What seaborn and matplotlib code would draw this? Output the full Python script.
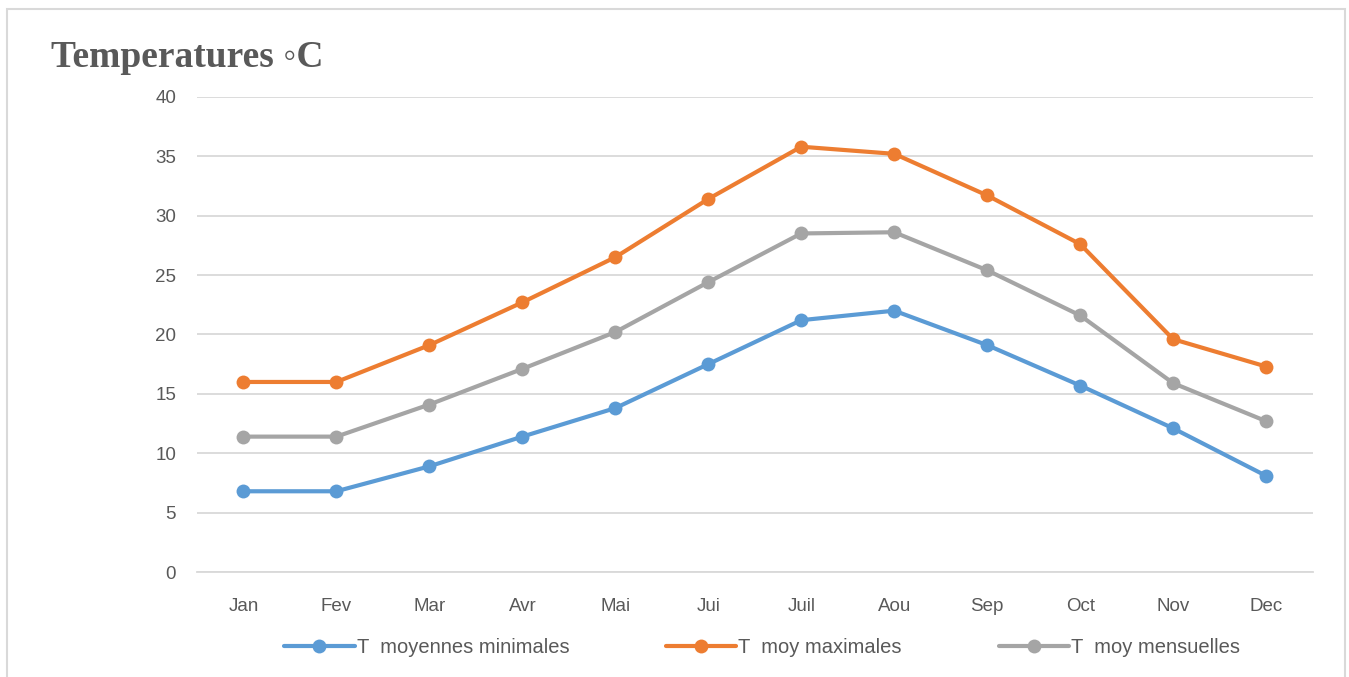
import seaborn as sns
import matplotlib.pyplot as plt
import pandas as pd
from matplotlib.patches import Rectangle

#monthly temperature data
months = ['Jan', 'Fev', 'Mar', 'Avr', 'Mai', 'Jui', 'Juil', 'Aou', 'Sep', 'Oct', 'Nov', 'Dec']
t_min = [6.8, 6.8, 8.9, 11.4, 13.8, 17.5, 21.2, 22.0, 19.1, 15.7, 12.1, 8.1]
t_max = [16.0, 16.0, 19.1, 22.7, 26.5, 31.4, 35.8, 35.2, 31.7, 27.6, 19.6, 17.3]
t_mean = [11.4, 11.4, 14.1, 17.1, 20.2, 24.4, 28.5, 28.6, 25.4, 21.6, 15.9, 12.7]

series_names = ['T  moyennes minimales', 'T  moy maximales', 'T  moy mensuelles']
colors = ['#5B9BD5', '#ED7D31', '#A5A5A5']

#build a long-form table for seaborn
df = pd.DataFrame({
    'month': months * 3,
    'temp': t_min + t_max + t_mean,
    'serie': [s for s in series_names for _ in months],
})

sns.set_style('white')
plt.rcParams['font.family'] = ['Liberation Sans', 'DejaVu Sans']

fig = plt.figure(figsize=(13.49, 6.77), dpi=100)
ax = fig.add_axes([0.146, 0.155, 0.827, 0.702])

sns.lineplot(data=df, x='month', y='temp', hue='serie', palette=colors,
             marker='o', markersize=10, markeredgewidth=0, linewidth=3,
             sort=False, ax=ax, legend=True)

ax.set_xlim(-0.5, 11.5)
ax.set_ylim(0, 40)
ax.set_yticks(range(0, 41, 5))
ax.set_xlabel('')
ax.set_ylabel('')
ax.grid(axis='y', color='#d9d9d9', linewidth=1.3)
ax.set_axisbelow(True)
for s in ['top', 'right', 'left']:
    ax.spines[s].set_visible(False)
ax.spines['bottom'].set_color('#d9d9d9')
ax.spines['bottom'].set_linewidth(1.3)
ax.tick_params(axis='both', length=0, labelsize=13.5, colors='#595959')
ax.tick_params(axis='x', pad=19)
ax.tick_params(axis='y', pad=15)

#move legend below the plot
handles, labels = ax.get_legend_handles_labels()
ax.get_legend().remove()
fig.legend(handles, labels, loc='center', bbox_to_anchor=(0.565, 0.043), ncol=3,
           frameon=False, fontsize=14.5, labelcolor='#595959',
           handlelength=3.5, handletextpad=0.1, columnspacing=4.8)

fig.text(0.038, 0.915, 'Temperatures \u25e6C', fontsize=27, fontweight='bold',
         color='#595959', family=['Liberation Serif', 'DejaVu Serif'], va='center')

#chart border
fig.patches.append(Rectangle((0.005, -0.05), 0.992, 1.037, transform=fig.transFigure,
                             fill=False, edgecolor='#d9d9d9', linewidth=1.5))

fig.savefig('out.png', dpi=100)
